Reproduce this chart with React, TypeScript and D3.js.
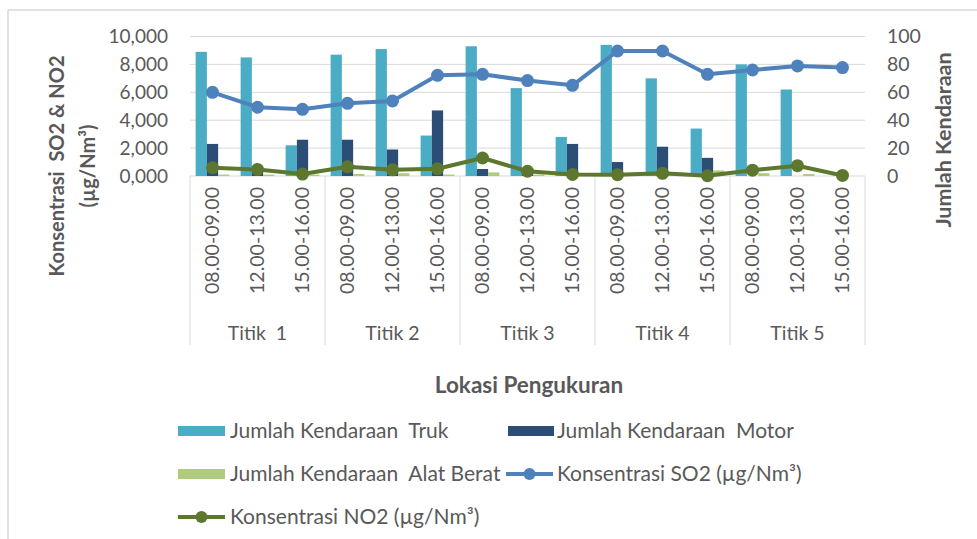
import React from "react";
import * as d3 from "d3";

const groups = ["Titik  1", "Titik 2", "Titik 3", "Titik 4", "Titik 5"];
const slots = ["08.00-09.00", "12.00-13.00", "15.00-16.00"];
const truk = [89, 85, 22, 87, 91, 29, 93, 63, 28, 94, 70, 34, 80, 62, 0];
const motor = [23, 4, 26, 26, 19, 47, 5, 3, 23, 10, 21, 13, 0, 0, 0];
const alatBerat = [1, 1, 1, 1.5, 2, 1, 2.6, 1, 1, 0.5, 1, 4, 2, 1.4, 0];
const so2 = [6000, 4930, 4780, 5210, 5380, 7220, 7290, 6840, 6500, 8960, 8960, 7290, 7600, 7890, 7770];
const no2 = [600, 470, 140, 660, 440, 520, 1290, 340, 110, 90, 190, 20, 420, 740, 40];
const leftTicks = [0, 2000, 4000, 6000, 8000, 10000];
const rightTicks = [0, 20, 40, 60, 80, 100];

const FONT = "Lato, 'Liberation Sans', sans-serif";
const GREY = "#595959";
const GRID = "#d9d9d9";
const C_TRUK = "#4BACC6";
const C_MOTOR = "#2C4D75";
const C_ALAT = "#AECB7F";
const C_SO2 = "#4F81BD";
const C_NO2 = "#5E772E";

export default function App() {
  const W = 977, H = 539;
  const x0 = 190, x1 = 865, yTop = 36.5, yBot = 176;
  const cats = groups.flatMap((g, gi) => slots.map((s, si) => `${gi}|${si}`));
  const x = d3.scaleBand<string>().domain(cats).range([x0, x1]).paddingInner(0).paddingOuter(0);
  const xs = d3.scaleBand<string>().domain(["t", "m", "a"]).range([0, x.bandwidth()]).paddingInner(0).paddingOuter(0.5);
  const yL = d3.scaleLinear().domain([0, 10000]).range([yBot, yTop]);
  const yR = d3.scaleLinear().domain([0, 100]).range([yBot, yTop]);
  const cx = (i: number) => (x(cats[i]) as number) + x.bandwidth() / 2;
  const lineL = d3.line<number>().x((_, i) => cx(i)).y((v) => yL(v));
  const fmt = (v: number) => d3.format(",")(v).replace(/^0$/, "0,000");
  const series: [number[], string, string][] = [
    [truk, C_TRUK, "t"],
    [motor, C_MOTOR, "m"],
    [alatBerat, C_ALAT, "a"],
  ];
  const groupW = x.bandwidth() * 3;
  const LEG = 21;

  return (
    <svg width={W} height={H} style={{ position: "absolute", left: 0, top: 0, background: "#fff" }} fontFamily={FONT}>
      <rect x={0} y={0} width={W} height={H} fill="#fff" />
      <line x1={8} x2={W} y1={10} y2={10} stroke={GRID} strokeWidth={1.5} />
      <line x1={8} x2={8} y1={10} y2={H} stroke={GRID} strokeWidth={1.5} />
      {leftTicks.map((t) => (
        <line key={t} x1={x0} x2={x1} y1={yL(t)} y2={yL(t)} stroke={GRID} strokeWidth={1} />
      ))}
      {d3.range(6).map((i) => (
        <line key={i} x1={x0 + i * groupW} x2={x0 + i * groupW} y1={yBot} y2={345} stroke={GRID} strokeWidth={1} />
      ))}
      {series.map(([vals, col, key]) =>
        vals.map((v, i) => (
          <rect
            key={key + i}
            x={(x(cats[i]) as number) + (xs(key) as number)}
            y={yR(v)}
            width={xs.bandwidth()}
            height={yBot - yR(v)}
            fill={col}
          />
        ))
      )}
      <path d={lineL(so2) || ""} fill="none" stroke={C_SO2} strokeWidth={4} strokeLinejoin="round" />
      {so2.map((v, i) => (
        <circle key={"s" + i} cx={cx(i)} cy={yL(v)} r={6.5} fill={C_SO2} />
      ))}
      <path d={lineL(no2) || ""} fill="none" stroke={C_NO2} strokeWidth={4} strokeLinejoin="round" />
      {no2.map((v, i) => (
        <circle key={"n" + i} cx={cx(i)} cy={yL(v)} r={6.5} fill={C_NO2} />
      ))}
      {leftTicks.map((t) => (
        <text key={t} x={168} y={yL(t)} dy="0.35em" textAnchor="end" fontSize={19} fill={GREY}>
          {fmt(t)}
        </text>
      ))}
      {rightTicks.map((t) => (
        <text key={t} x={887} y={yR(t)} dy="0.35em" textAnchor="start" fontSize={19.5} fill={GREY}>
          {t}
        </text>
      ))}
      {cats.map((c, i) => (
        <text
          key={c}
          transform={`translate(${cx(i)},187) rotate(-90)`}
          textAnchor="end"
          dy="0.35em"
          fontSize={19.5}
          fill={GREY}
        >
          {slots[i % 3]}
        </text>
      ))}
      {groups.map((g, gi) => (
        <text key={g} x={x0 + gi * groupW + groupW / 2} y={333} dy="0.35em" textAnchor="middle" fontSize={19.5} fill={GREY} style={{ whiteSpace: "pre" }}>
          {g}
        </text>
      ))}
      <text transform="translate(57,166) rotate(-90)" textAnchor="middle" dy="0.35em" fontSize={20} fontWeight="bold" fill={GREY} style={{ whiteSpace: "pre" }}>
        Konsentrasi  SO2 &amp; NO2
      </text>
      <text transform="translate(88,166) rotate(-90)" textAnchor="middle" dy="0.35em" fontSize={20} fontWeight="bold" fill={GREY}>
        (µg/Nm³)
      </text>
      <text transform="translate(943,140) rotate(-90)" textAnchor="middle" dy="0.35em" fontSize={21.5} fontWeight="bold" fill={GREY}>
        Jumlah Kendaraan
      </text>
      <text x={529} y={385} dy="0.35em" textAnchor="middle" fontSize={22.5} fontWeight="bold" fill={GREY}>
        Lokasi Pengukuran
      </text>
      <rect x={178} y={426} width={47} height={10} fill={C_TRUK} />
      <text x={230} y={431} dy="0.35em" fontSize={LEG} fill={GREY} style={{ whiteSpace: "pre" }}>Jumlah Kendaraan  Truk</text>
      <rect x={508} y={426} width={46} height={10} fill={C_MOTOR} />
      <text x={557} y={431} dy="0.35em" fontSize={LEG} fill={GREY} style={{ whiteSpace: "pre" }}>Jumlah Kendaraan  Motor</text>
      <rect x={178} y={469} width={47} height={10} fill={C_ALAT} />
      <text x={230} y={474} dy="0.35em" fontSize={LEG} fill={GREY} style={{ whiteSpace: "pre" }}>Jumlah Kendaraan  Alat Berat</text>
      <line x1={506} x2={553} y1={474} y2={474} stroke={C_SO2} strokeWidth={4} />
      <circle cx={529.5} cy={474} r={6} fill={C_SO2} />
      <text x={557} y={474} dy="0.35em" fontSize={LEG} fill={GREY}>Konsentrasi SO2 (µg/Nm³)</text>
      <line x1={178} x2={225} y1={517} y2={517} stroke={C_NO2} strokeWidth={4} />
      <circle cx={201.5} cy={517} r={6} fill={C_NO2} />
      <text x={230} y={517} dy="0.35em" fontSize={LEG} fill={GREY}>Konsentrasi NO2 (µg/Nm³)</text>
    </svg>
  );
}
